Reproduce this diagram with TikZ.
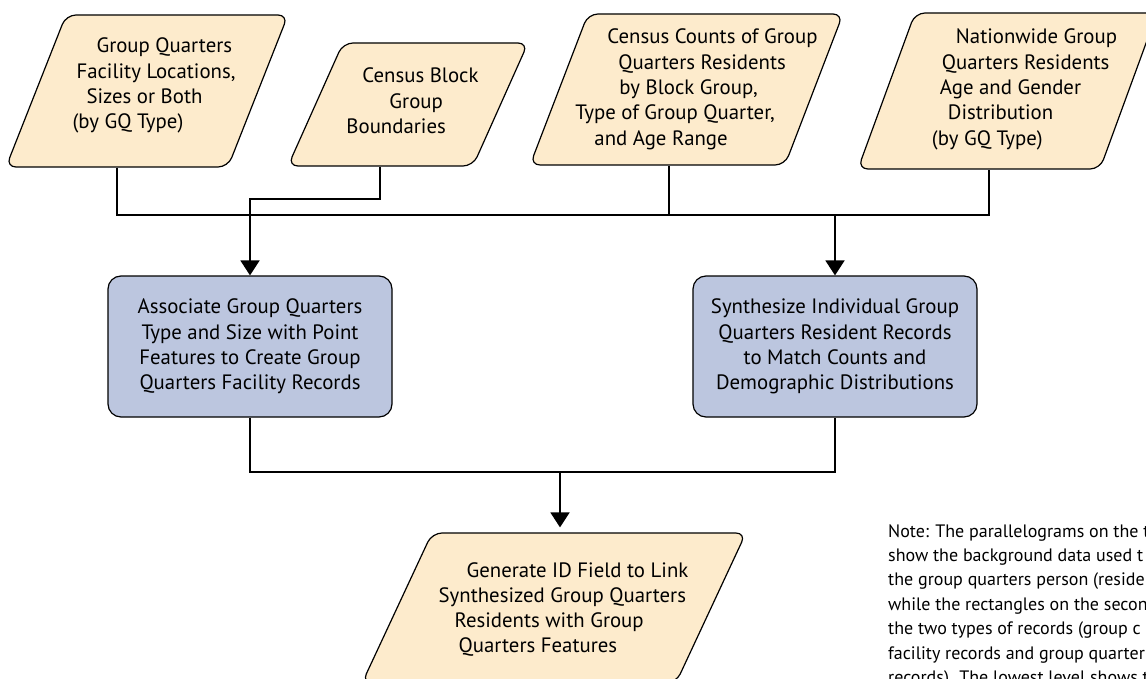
\documentclass[tikz,border=0pt]{standalone}
\usepackage{fontspec}
\setmainfont{PT Sans}
\usepackage{tikz}
\usetikzlibrary{shapes,shapes.geometric,arrows.meta,calc,positioning}
\definecolor{gqtan}{HTML}{FDEBCC}
\definecolor{gqblue}{HTML}{BCC6DF}

\begin{document}
\begin{tikzpicture}[x=1pt,y=-1pt]
	\tikzstyle{pnode}=[trapezium, draw, line width=1.2pt, fill=gqtan, rounded corners=10pt, inner sep=0pt, font=\fontsize{20.8}{25.3}\selectfont]
	\tikzstyle{rnode}=[rectangle, draw, line width=1.2pt, fill=gqblue, rounded corners=13pt, align=center, minimum width=284pt, minimum height=141pt, font=\fontsize{20.8}{25.3}\selectfont]
	\tikzstyle{conn}=[line width=1.8pt]
	\tikzstyle{aconn}=[conn, -{Triangle[width=19pt,length=15pt]}]
	\useasboundingbox (0,0) rectangle (1146,679);
	\clip (0,0) rectangle (1146,679);
	\node[pnode, trapezium left angle=68.46, trapezium right angle=111.54, text height=38pt, text depth=114pt] (gqfac) at (147,91)
		{\makebox[162pt]{\begin{tabular}[t]{@{}l@{}}\hspace*{38pt}Group Quarters\\\hspace*{18pt}Facility Locations,\\\hspace*{28pt}Sizes or Both\\\hspace*{14pt}(by GQ Type)\end{tabular}}};
	\node[pnode, trapezium left angle=65.9, trapezium right angle=114.1, text height=40pt, text depth=83pt] (block) at (408,104.5)
		{\makebox[130pt]{\begin{tabular}[t]{@{}l@{}}\hspace*{25pt}Census Block\\\hspace*{52pt}Group\\\hspace*{9pt}Boundaries\end{tabular}}};
	\node[pnode, trapezium left angle=69, trapezium right angle=111, text height=30pt, text depth=121pt] (census) at (686.5,89.5)
		{\makebox[197pt]{\begin{tabular}[t]{@{}l@{}}\hspace*{52pt}Census Counts of Group\\\hspace*{63pt}Quarters Residents\\\hspace*{64pt}by Block Group,\\\hspace*{20pt}Type of Group Quarter,\\\hspace*{39pt}and Age Range\end{tabular}}};
	\node[pnode, trapezium left angle=69.9, trapezium right angle=110.1, text height=31pt, text depth=125pt] (nation) at (1007.5,91)
		{\makebox[185pt]{\begin{tabular}[t]{@{}l@{}}\hspace*{58pt}Nationwide Group\\\hspace*{44pt}Quarters Residents\\\hspace*{42pt}Age and Gender\\\hspace*{50pt}Distribution\\\hspace*{34pt}(by GQ Type)\end{tabular}}};
	\node[rnode] (assoc) at (250,346.5) {Associate Group Quarters\\Type and Size with Point\\Features to Create Group\\Quarters Facility Records};
	\node[rnode] (synth) at (835,346.5) {Synthesize Individual Group\\Quarters Resident Records\\to Match Counts and\\Demographic Distributions};
	\node[pnode, trapezium left angle=65, trapezium right angle=115, text height=44pt, text depth=106pt] (gen) at (554,608)
		{\makebox[244pt]{\begin{tabular}[t]{@{}l@{}}\hspace*{47pt}Generate ID Field to Link\\\hspace*{19pt}Synthesized Group Quarters\\\hspace*{35pt}Residents with Group\\\hspace*{39pt}Quarters Features\end{tabular}}};
	\node[anchor=north west, align=left, inner sep=0pt, font=\fontsize{18}{24.4}\selectfont] (note) at (888,524)
		{Note: The parallelograms on the t\\show the background data used t\\the group quarters person (reside\\while the rectangles on the secon\\the two types of records (group c\\facility records and group quarter\\records). The lowest level shows t};
	\coordinate (bus) at (0,215);
	\coordinate (jog) at (0,199);
	\coordinate (merge) at (560,472);
	\coordinate (p3s) at ([xshift=12pt]census.bottom side);
	\coordinate (p4s) at ([xshift=10pt]nation.bottom side);
	\draw[conn] (gqfac.bottom side) |- (bus -| p4s) -- (p4s);
	\draw[conn] (p3s) -- (p3s |- bus);
	\draw[aconn] (block.bottom side) |- (jog -| assoc.north) -- (assoc.north);
	\draw[aconn] (bus -| synth.north) -- (synth.north);
	\draw[conn] (assoc.south) |- (merge -| synth.south) -- (synth.south);
	\draw[aconn, shorten >=5pt] (merge) -- (merge |- gen.north);
\end{tikzpicture}
\end{document}
